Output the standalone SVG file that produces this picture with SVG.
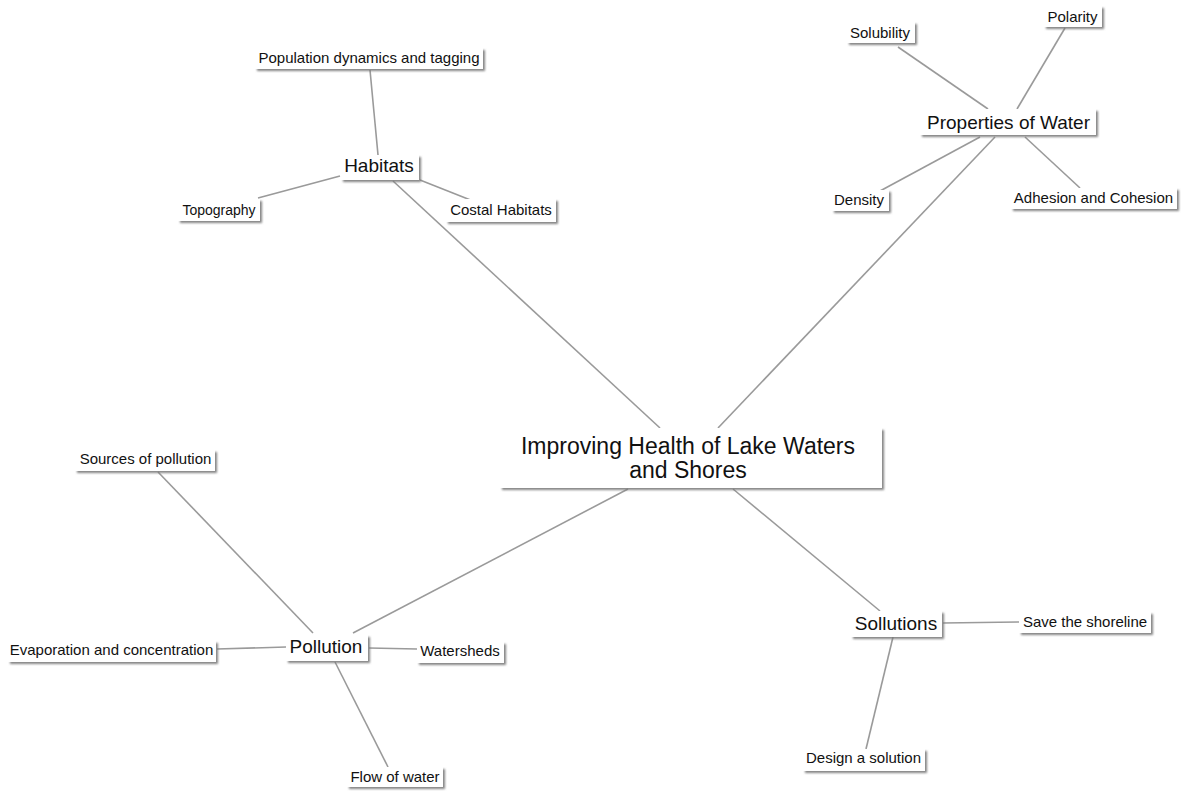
<svg xmlns="http://www.w3.org/2000/svg" width="1181" height="791" viewBox="0 0 1181 791">
<style>
.bg{fill:#ffffff}
.box{fill:#ffffff;filter:url(#sh)}
.t{font-family:"Liberation Sans",Arial,sans-serif;fill:#111111;text-anchor:middle}
.s{font-size:15px}
.m{font-size:19px}
.l{font-size:23px}
#connectors line{stroke:#9a9a9a;stroke-width:1.6;fill:none}
</style>
<defs>
<filter id="sh" x="-10%" y="-20%" width="130%" height="160%">
<feDropShadow dx="2" dy="2" stdDeviation="0.8" flood-color="#777777" flood-opacity="0.9"/>
</filter>
</defs>
<rect class="bg" x="0" y="0" width="1181" height="791"/>
<g id="connectors">
<line x1="370" y1="70" x2="378" y2="155"/>
<line x1="340" y1="176" x2="258" y2="198"/>
<line x1="420" y1="180" x2="473" y2="201"/>
<line x1="393" y1="181" x2="660" y2="428"/>
<line x1="898" y1="47" x2="988" y2="109"/>
<line x1="1065" y1="28" x2="1017" y2="109"/>
<line x1="980" y1="137" x2="880" y2="191"/>
<line x1="1025" y1="137" x2="1080" y2="188"/>
<line x1="995" y1="137" x2="718" y2="428"/>
<line x1="158" y1="472" x2="313" y2="633"/>
<line x1="217" y1="649" x2="286" y2="647"/>
<line x1="369" y1="648" x2="417" y2="649"/>
<line x1="335" y1="662" x2="388" y2="767"/>
<line x1="353" y1="633" x2="628" y2="489"/>
<line x1="733" y1="489" x2="880" y2="611"/>
<line x1="943" y1="623" x2="1019" y2="622"/>
<line x1="893" y1="637" x2="866" y2="749"/>
</g>
<g id="central"><rect class="box" x="500" y="428" width="382" height="60"/><text class="t l" x="688" y="454">Improving Health of Lake Waters</text><text class="t l" x="688" y="478">and Shores</text></g>
<g id="habitats"><rect class="box" x="341" y="155" width="78" height="25"/><text class="t m" x="379" y="172">Habitats</text></g>
<g id="population"><rect class="box" x="255" y="48" width="228" height="21"/><text class="t s" x="369" y="63">Population dynamics and tagging</text></g>
<g id="topography"><rect class="box" x="178" y="199" width="82" height="22"/><text class="t s" x="219" y="215" style="font-size:14px">Topography</text></g>
<g id="costal"><rect class="box" x="446" y="199" width="110" height="23"/><text class="t s" x="501" y="215">Costal Habitats</text></g>
<g id="properties"><rect class="box" x="920" y="109" width="176" height="26"/><text class="t m" x="1008.5" y="129">Properties of Water</text></g>
<g id="solubility"><rect class="box" x="847" y="22" width="68" height="21"/><text class="t s" x="880" y="38">Solubility</text></g>
<g id="polarity"><rect class="box" x="1044" y="6" width="58" height="21"/><text class="t s" x="1072.5" y="22">Polarity</text></g>
<g id="density"><rect class="box" x="832" y="190" width="57" height="21"/><text class="t s" x="859" y="205">Density</text></g>
<g id="adhesion"><rect class="box" x="1011" y="188" width="166" height="21"/><text class="t s" x="1093.5" y="203">Adhesion and Cohesion</text></g>
<g id="pollution"><rect class="box" x="286" y="635" width="82" height="26"/><text class="t m" x="326" y="653">Pollution</text></g>
<g id="sources"><rect class="box" x="75" y="450" width="140" height="21"/><text class="t s" x="145.5" y="464">Sources of pollution</text></g>
<g id="evaporation"><rect class="box" x="8" y="641" width="208" height="21"/><text class="t s" x="111.5" y="655">Evaporation and concentration</text></g>
<g id="watersheds"><rect class="box" x="417" y="642" width="87" height="21"/><text class="t s" x="460" y="656">Watersheds</text></g>
<g id="flow"><rect class="box" x="347" y="767" width="96" height="20"/><text class="t s" x="395" y="782">Flow of water</text></g>
<g id="sollutions"><rect class="box" x="851" y="611" width="91" height="26"/><text class="t m" x="896" y="630">Sollutions</text></g>
<g id="save"><rect class="box" x="1019" y="612" width="132" height="21"/><text class="t s" x="1085" y="627">Save the shoreline</text></g>
<g id="design"><rect class="box" x="803" y="749" width="122" height="22"/><text class="t s" x="863.5" y="763">Design a solution</text></g>
</svg>
